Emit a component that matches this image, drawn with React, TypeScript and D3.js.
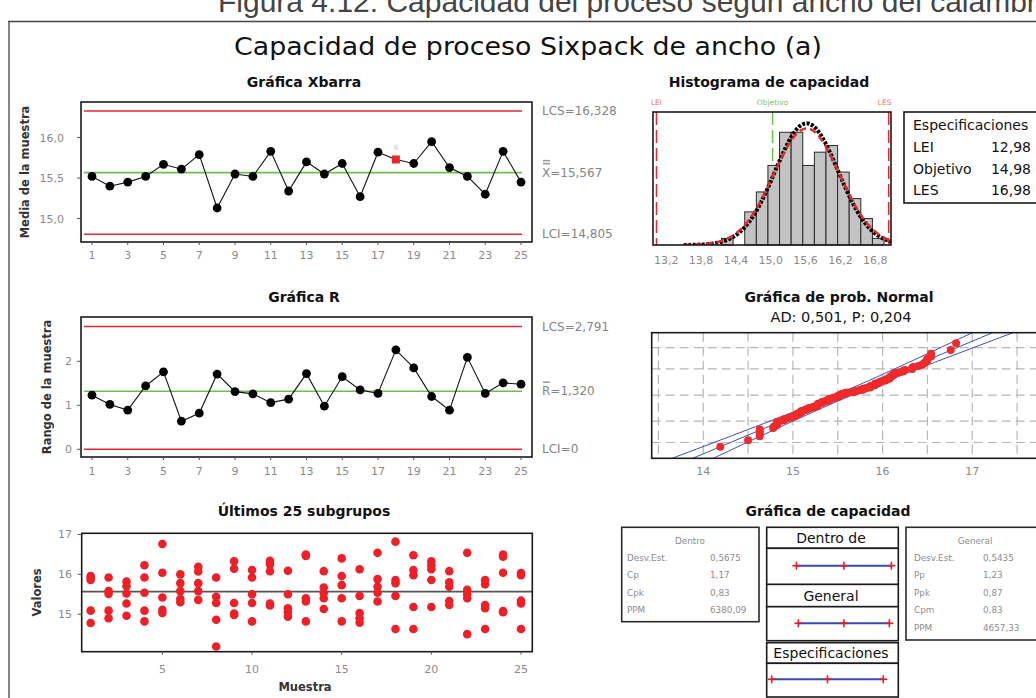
import React from 'react';
import * as d3 from 'd3';

const W = 1036;
const H = 698;
const FONT = "'DejaVu Sans', Verdana, sans-serif";
const TICK_GRAY = '#8a8a8a';
const RED = '#e8262c';
const GREEN = '#6cbf4a';
const BLUE = '#3448c0';

// ---- Subgroup statistics (25 subgroups of 5) ----
const samples = d3.range(1, 26);
const sampleMeans = [
  15.52, 15.40, 15.45, 15.52, 15.67, 15.61, 15.79, 15.13, 15.55, 15.52,
  15.83, 15.34, 15.70, 15.55, 15.68, 15.27, 15.82, 15.73, 15.68, 15.95,
  15.63, 15.52, 15.30, 15.83, 15.45,
];
const sampleRanges = [
  1.23, 1.02, 0.89, 1.44, 1.76, 0.64, 0.82, 1.71, 1.31, 1.26,
  1.06, 1.14, 1.72, 0.98, 1.65, 1.35, 1.27, 2.26, 1.85, 1.20,
  0.89, 2.09, 1.27, 1.51, 1.48,
];
const flaggedMeans = [18];
const oddTicks = d3.range(1, 26, 2);

const xbarUCL = 16.328;
const xbarCL = 15.567;
const xbarLCL = 14.805;
const rUCL = 2.791;
const rCL = 1.32;
const rLCL = 0;

// ---- Individual observations per subgroup ----
const subgroupValues = [
  [15.96, 15.91, 15.86, 15.09, 14.78],
  [15.92, 15.58, 15.51, 15.09, 14.90],
  [15.82, 15.70, 15.52, 15.27, 14.96],
  [16.23, 15.92, 15.54, 15.09, 14.82],
  [16.76, 16.04, 15.42, 15.11, 15.03],
  [16.00, 15.78, 15.58, 15.38, 15.30],
  [16.19, 16.07, 15.78, 15.58, 15.36],
  [15.92, 15.44, 15.28, 14.86, 14.19],
  [16.33, 16.14, 15.28, 15.02, 14.98],
  [16.11, 15.92, 15.50, 15.28, 14.82],
  [16.34, 16.25, 16.08, 15.27, 15.22],
  [16.09, 15.50, 15.15, 15.05, 14.94],
  [16.50, 16.46, 15.40, 15.32, 14.82],
  [16.08, 15.67, 15.53, 15.40, 15.13],
  [16.40, 15.96, 15.73, 15.40, 14.82],
  [16.13, 15.46, 15.03, 14.90, 14.79],
  [16.54, 15.88, 15.69, 15.54, 15.32],
  [16.82, 15.86, 15.78, 15.46, 14.63],
  [16.48, 16.11, 15.98, 15.18, 14.63],
  [16.33, 16.23, 16.13, 15.86, 15.18],
  [16.08, 15.80, 15.69, 15.33, 15.23],
  [16.54, 15.61, 15.50, 15.40, 14.50],
  [15.86, 15.75, 15.23, 15.15, 14.63],
  [16.50, 16.44, 16.04, 15.08, 15.05],
  [16.03, 15.98, 15.34, 15.27, 14.63],
];
const subgroupTicks = [5, 10, 15, 20, 25];
const valueTicks = [15, 16, 17];

// ---- Capability histogram ----
const binWidth = 0.2;
const binStarts = [14.1, 14.3, 14.5, 14.7, 14.9, 15.1, 15.3, 15.5, 15.7, 15.9, 16.1, 16.3, 16.5, 16.7];
const binCounts = [1, 0, 5, 8, 12, 17, 17, 12, 14, 15, 11, 7, 4, 1];
const histTicks = [13.2, 13.8, 14.4, 15.0, 15.6, 16.2, 16.8];

const specLower = 12.98;
const specTarget = 14.98;
const specUpper = 16.98;
const processMean = 15.567;
const sdWithin = 0.5675;
const sdOverall = 0.5435;
const nObs = 125;

const specRows = [
  ['LEI', '12,98'],
  ['Objetivo', '14,98'],
  ['LES', '16,98'],
];
const withinStats = [
  ['Desv.Est.', '0,5675'],
  ['Cp', '1,17'],
  ['Cpk', '0,83'],
  ['PPM', '6380,09'],
];
const overallStats = [
  ['Desv.Est.', '0,5435'],
  ['Pp', '1,23'],
  ['Ppk', '0,87'],
  ['Cpm', '0,83'],
  ['PPM', '4657,33'],
];

// ---- Normal probability plot ----
const probTicks = [14, 15, 16, 17];
const probGridX = d3.range(13.5, 17.51, 0.5);
const probGridPct = [1, 10, 50, 90, 99];

const es = d3.formatLocale({ decimal: ',', thousands: '.', grouping: [3], currency: ['', ' €'] });
const fmt1 = es.format('.1f');
const fmt0 = es.format('d');

// inverse of the standard normal CDF (Acklam's rational approximation)
function normInv(p: number): number {
  const a = [-3.969683028665376e1, 2.209460984245205e2, -2.759285104469687e2, 1.38357751867269e2, -3.066479806614716e1, 2.506628277459239];
  const b = [-5.447609879822406e1, 1.615858368580409e2, -1.556989798598866e2, 6.680131188771972e1, -1.328068155288572e1];
  const c = [-7.784894002430293e-3, -3.223964580411365e-1, -2.400758277161838, -2.549732539343734, 4.374664141464968, 2.938163982698783];
  const d = [7.784695709041462e-3, 3.224671290700398e-1, 2.445134137142996, 3.754408661907416];
  const pl = 0.02425;
  if (p < pl) {
    const q = Math.sqrt(-2 * Math.log(p));
    return (((((c[0] * q + c[1]) * q + c[2]) * q + c[3]) * q + c[4]) * q + c[5]) / ((((d[0] * q + d[1]) * q + d[2]) * q + d[3]) * q + 1);
  }
  if (p <= 1 - pl) {
    const q = p - 0.5;
    const r = q * q;
    return ((((((a[0] * r + a[1]) * r + a[2]) * r + a[3]) * r + a[4]) * r + a[5]) * q) / (((((b[0] * r + b[1]) * r + b[2]) * r + b[3]) * r + b[4]) * r + 1);
  }
  const q = Math.sqrt(-2 * Math.log(1 - p));
  return -(((((c[0] * q + c[1]) * q + c[2]) * q + c[3]) * q + c[4]) * q + c[5]) / ((((d[0] * q + d[1]) * q + d[2]) * q + d[3]) * q + 1);
}

const normPdf = (x: number, m: number, s: number) =>
  Math.exp(-0.5 * ((x - m) / s) ** 2) / (s * Math.sqrt(2 * Math.PI));

// ---- scales ----
const xS = d3.scaleLinear().domain([0.385, 25.615]).range([81, 532]);
const yXbar = d3.scaleLinear().domain([14.71, 16.44]).range([242, 102]);
const yRange = d3.scaleLinear().domain([-0.175, 3.007]).range([457, 317]);
const xSub = d3.scaleLinear().domain([0.5, 25.63]).range([81.7, 532.3]);
const ySub = d3.scaleLinear().domain([14.06, 17.03]).range([651.7, 533.3]);
const xH = d3.scaleLinear().domain([12.92, 17.02]).range([653, 891]);
const yH = d3.scaleLinear().domain([0, 20.06]).range([245, 112]);
const xP = d3.scaleLinear().domain([13.425, 17.8]).range([651.7, 1044]);
const yP = d3.scaleLinear().domain([-3.1, 3.054]).range([458.3, 332.7]);
const xC = d3.scaleLinear().domain([specLower, specUpper]).range([771.7, 883.3]);

const titleStyle = { fontFamily: FONT, fontSize: 14, fontWeight: 700, fill: '#111' } as const;
const tickStyle = { fontFamily: FONT, fontSize: 11, fill: TICK_GRAY } as const;
const axisLabelStyle = { fontFamily: FONT, fontSize: 11.5, fontWeight: 700, fill: '#333' } as const;

type ControlProps = {
  y: d3.ScaleLinear<number, number>;
  values: number[];
  ticks: number[];
  tickFmt: (v: number) => string;
  tickRight: number;
  ucl: number;
  cl: number;
  lcl: number;
  uclText: string;
  clLetter: string;
  clText: string;
  clBars: number;
  lclText: string;
  flagged: number[];
  title: string;
  titleY: number;
  yLabel: string;
  yLabelX: number;
  xLabelY: number;
};

function ControlChart(p: ControlProps) {
  const [bottom, top] = p.y.range();
  const [left, right] = xS.range();
  const line = d3
    .line<number>()
    .x((_, i) => xS(samples[i]))
    .y((v) => p.y(v));
  const midY = (top + bottom) / 2;
  const clY = p.y(p.cl);
  return (
    <g>
      <text x={304} y={p.titleY} textAnchor="middle" style={titleStyle}>
        {p.title}
      </text>
      <text
        transform={`translate(${p.yLabelX},${midY}) rotate(-90)`}
        textAnchor="middle"
        dy="0.35em"
        style={axisLabelStyle}
      >
        {p.yLabel}
      </text>
      {/* control limits */}
      <line x1={xS(1) - 8} x2={xS(25) + 1} y1={p.y(p.ucl)} y2={p.y(p.ucl)} stroke={RED} strokeWidth={1.6} />
      <line x1={xS(1) - 8} x2={xS(25) + 1} y1={p.y(p.lcl)} y2={p.y(p.lcl)} stroke={RED} strokeWidth={1.6} />
      <line x1={xS(1) - 8} x2={xS(25) + 1} y1={clY} y2={clY} stroke={GREEN} strokeWidth={1.6} />
      {/* series */}
      <path d={line(p.values) || ''} fill="none" stroke="#111" strokeWidth={1.1} />
      {p.values.map((v, i) =>
        p.flagged.includes(samples[i]) ? (
          <g key={i}>
            <rect x={xS(samples[i]) - 4} y={p.y(v) - 4} width={8} height={8} fill={RED} />
            <text x={xS(samples[i])} y={p.y(v) - 9} textAnchor="middle" style={{ fontFamily: FONT, fontSize: 7, fill: '#c8c8c8' }}>
              6
            </text>
          </g>
        ) : (
          <circle key={i} cx={xS(samples[i])} cy={p.y(v)} r={4.4} fill="#000" />
        )
      )}
      {/* frame */}
      <rect x={left} y={top} width={right - left} height={bottom - top} fill="none" stroke="#1a1a1a" strokeWidth={1.6} />
      {/* y axis */}
      {p.ticks.map((t) => (
        <g key={t}>
          <line x1={left - 4} x2={left} y1={p.y(t)} y2={p.y(t)} stroke="#555" />
          <text x={p.tickRight} y={p.y(t) + 4} textAnchor="end" style={tickStyle}>
            {p.tickFmt(t)}
          </text>
        </g>
      ))}
      {/* x axis */}
      {oddTicks.map((t) => (
        <g key={t}>
          <line x1={xS(t)} x2={xS(t)} y1={bottom} y2={bottom + 3} stroke="#555" />
          <text x={xS(t)} y={p.xLabelY} textAnchor="middle" style={tickStyle}>
            {t}
          </text>
        </g>
      ))}
      {/* limit labels */}
      <text x={542} y={p.y(p.ucl) + 4} style={{ fontFamily: FONT, fontSize: 12, fill: '#858585' }}>
        {p.uclText}
      </text>
      <text x={542} y={clY + 4} style={{ fontFamily: FONT, fontSize: 12, fill: '#858585' }}>
        {p.clLetter + p.clText}
      </text>
      {d3.range(p.clBars).map((k) => (
        <line key={k} x1={543} x2={550} y1={clY - 9 - k * 3} y2={clY - 9 - k * 3} stroke="#9a9a9a" strokeWidth={1.6} />
      ))}
      <text x={542} y={p.y(p.lcl) + 4} style={{ fontFamily: FONT, fontSize: 12, fill: '#858585' }}>
        {p.lclText}
      </text>
    </g>
  );
}

function SubgroupPlot() {
  const [left, right] = xSub.range();
  const [bottom, top] = ySub.range();
  return (
    <g>
      <text x={304} y={515.5} textAnchor="middle" style={titleStyle}>
        Últimos 25 subgrupos
      </text>
      <text transform={`translate(37,${(top + bottom) / 2}) rotate(-90)`} textAnchor="middle" dy="0.35em" style={axisLabelStyle}>
        Valores
      </text>
      <text x={305} y={691} textAnchor="middle" style={axisLabelStyle}>
        Muestra
      </text>
      <line x1={left} x2={right} y1={ySub(xbarCL)} y2={ySub(xbarCL)} stroke="#555" strokeWidth={1.6} />
      {subgroupValues.map((vals, i) =>
        vals.map((v, j) => <circle key={`${i}-${j}`} cx={xSub(samples[i])} cy={ySub(v)} r={4.3} fill="#ee1f26" />)
      )}
      <rect x={left} y={top} width={right - left} height={bottom - top} fill="none" stroke="#1a1a1a" strokeWidth={1.6} />
      {valueTicks.map((t) => (
        <g key={t}>
          <line x1={left - 4} x2={left} y1={ySub(t)} y2={ySub(t)} stroke="#555" />
          <text x={72} y={ySub(t) + 4} textAnchor="end" style={tickStyle}>
            {fmt0(t)}
          </text>
        </g>
      ))}
      {subgroupTicks.map((t) => (
        <g key={t}>
          <line x1={xSub(t)} x2={xSub(t)} y1={bottom} y2={bottom + 3} stroke="#555" />
          <text x={xSub(t)} y={673} textAnchor="middle" style={tickStyle}>
            {t}
          </text>
        </g>
      ))}
    </g>
  );
}

function CapabilityHistogram() {
  const [left, right] = xH.range();
  const [bottom, top] = yH.range();
  const xs = d3.range(13.45, 17.03, 0.01);
  const curve = (sd: number) =>
    d3
      .line<number>()
      .x((x) => xH(x))
      .y((x) => yH(nObs * binWidth * normPdf(x, processMean, sd)))(xs) || '';
  const specLabel = { fontFamily: FONT, fontSize: 7.5 } as const;
  return (
    <g>
      <defs>
        <clipPath id="hist-clip">
          <rect x={left} y={top} width={right - left} height={bottom - top} />
        </clipPath>
      </defs>
      <text x={769} y={87} textAnchor="middle" style={titleStyle}>
        Histograma de capacidad
      </text>
      <line x1={xH(specTarget)} x2={xH(specTarget)} y1={top} y2={bottom} stroke={GREEN} strokeWidth={1.5} strokeDasharray="13,5" />
      {binStarts.map((b, i) =>
        binCounts[i] > 0 ? (
          <rect
            key={b}
            x={xH(b)}
            y={yH(binCounts[i])}
            width={xH(b + binWidth) - xH(b)}
            height={yH(0) - yH(binCounts[i])}
            fill="#c3c3c3"
            stroke="#2a2a2a"
            strokeWidth={1}
          />
        ) : null
      )}
      <line x1={xH(specLower)} x2={xH(specLower)} y1={top} y2={bottom} stroke={RED} strokeWidth={1.5} strokeDasharray="13,5" />
      <line x1={xH(specUpper)} x2={xH(specUpper)} y1={top} y2={bottom} stroke={RED} strokeWidth={1.5} strokeDasharray="13,5" />
      <g clipPath="url(#hist-clip)">
        <path d={curve(sdOverall)} fill="none" stroke="#000" strokeWidth={4} strokeDasharray="3,1.5" />
        <path d={curve(sdWithin)} fill="none" stroke={RED} strokeWidth={2.4} strokeDasharray="7,4" />
      </g>
      <rect x={left} y={top} width={right - left} height={bottom - top} fill="none" stroke="#1a1a1a" strokeWidth={1.6} />
      <text x={xH(specLower)} y={105} textAnchor="middle" style={{ ...specLabel, fill: '#f07070' }}>
        LEI
      </text>
      <text x={xH(specTarget)} y={105} textAnchor="middle" style={{ ...specLabel, fill: '#78c070' }}>
        Objetivo
      </text>
      <text x={xH(specUpper) - 4} y={105} textAnchor="middle" style={{ ...specLabel, fill: '#f07070' }}>
        LES
      </text>
      {histTicks.map((t) => (
        <text key={t} x={xH(t) - 3} y={264} textAnchor="middle" style={tickStyle}>
          {fmt1(t)}
        </text>
      ))}
      {/* specification legend */}
      <rect x={904} y={112} width={150} height={91} fill="#fff" stroke="#1a1a1a" strokeWidth={1.6} />
      <text x={913} y={130} style={{ fontFamily: FONT, fontSize: 14, fill: '#111' }}>
        Especificaciones
      </text>
      {specRows.map((r, i) => (
        <g key={r[0]}>
          <text x={913} y={152 + i * 21.5} style={{ fontFamily: FONT, fontSize: 14, fill: '#111' }}>
            {r[0]}
          </text>
          <text x={1031} y={152 + i * 21.5} textAnchor="end" style={{ fontFamily: FONT, fontSize: 14, fill: '#111' }}>
            {r[1]}
          </text>
        </g>
      ))}
    </g>
  );
}

function NormalProbPlot() {
  const [left, right] = xP.range();
  const [bottom, top] = yP.range();
  const sorted = subgroupValues.flat().sort((a, b) => a - b);
  const n = sorted.length;
  const pts = sorted.map((v, i) => ({ v, z: normInv((i + 1 - 0.3) / (n + 0.4)) }));
  const zs = d3.range(-3.4, 3.41, 0.05);
  const band = (k: number) =>
    d3
      .line<number>()
      .x((z) => xP(processMean + z * sdOverall + k * 1.96 * sdOverall * Math.sqrt(1 / n + (z * z) / (2 * n))))
      .y((z) => yP(z))(zs) || '';
  return (
    <g>
      <defs>
        <clipPath id="prob-clip">
          <rect x={left} y={top} width={right - left} height={bottom - top} />
        </clipPath>
      </defs>
      <text x={839} y={302} textAnchor="middle" style={titleStyle}>
        Gráfica de prob. Normal
      </text>
      <text x={841} y={322} textAnchor="middle" style={{ fontFamily: FONT, fontSize: 14.5, fill: '#111' }}>
        AD: 0,501, P: 0,204
      </text>
      <g clipPath="url(#prob-clip)">
        {probGridX.map((g) => (
          <line key={g} x1={xP(g)} x2={xP(g)} y1={top} y2={bottom} stroke="#b5b5b5" strokeWidth={1.2} strokeDasharray="9,5" />
        ))}
        {probGridPct.map((pct) => (
          <line key={pct} x1={left} x2={right} y1={yP(normInv(pct / 100))} y2={yP(normInv(pct / 100))} stroke="#b5b5b5" strokeWidth={1.2} strokeDasharray="9,5" />
        ))}
        <path d={band(0)} fill="none" stroke={BLUE} strokeWidth={1} />
        <path d={band(-1)} fill="none" stroke={BLUE} strokeWidth={1} />
        <path d={band(1)} fill="none" stroke={BLUE} strokeWidth={1} />
        {pts.map((p, i) => (
          <circle key={i} cx={xP(p.v)} cy={yP(p.z)} r={4} fill="#ee2a2a" />
        ))}
      </g>
      <rect x={left} y={top} width={right - left} height={bottom - top} fill="none" stroke="#1a1a1a" strokeWidth={1.6} />
      {probTicks.map((t) => (
        <text key={t} x={xP(t)} y={475} textAnchor="middle" style={tickStyle}>
          {t}
        </text>
      ))}
    </g>
  );
}

function Plus({ x, y }: { x: number; y: number }) {
  return (
    <g stroke="#f01818" strokeWidth={1.6}>
      <line x1={x - 4} x2={x + 4} y1={y} y2={y} />
      <line x1={x} x2={x} y1={y - 4} y2={y + 4} />
    </g>
  );
}

function CapabilityPlot() {
  const small = { fontFamily: FONT, fontSize: 8.8, fill: '#8c8c8c' } as const;
  const big = { fontFamily: FONT, fontSize: 14, fill: '#111' } as const;
  const intervals = [
    [processMean - 3 * sdWithin, processMean, processMean + 3 * sdWithin],
    [processMean - 3 * sdOverall, processMean, processMean + 3 * sdOverall],
    [specLower, specTarget, specUpper],
  ];
  const bx0 = 766.7;
  const bx1 = 898.3;
  const headers = [
    { label: 'Dentro de', y0: 527.3, y1: 548.3 },
    { label: 'General', y0: 584.3, y1: 606.7 },
    { label: 'Especificaciones', y0: 642.7, y1: 663.3 },
  ];
  const bodies = [
    { y0: 548.3, y1: 584.3, ly: 565.7 },
    { y0: 606.7, y1: 640.7, ly: 623.3 },
    { y0: 663.3, y1: 697, ly: 679.3 },
  ];
  return (
    <g>
      <text x={828} y={515.5} textAnchor="middle" style={titleStyle}>
        Gráfica de capacidad
      </text>
      {/* within statistics */}
      <rect x={621.7} y={527.3} width={137.3} height={94.4} fill="#fff" stroke="#2a2a2a" strokeWidth={1.6} />
      <text x={690} y={543.5} textAnchor="middle" style={small}>
        Dentro
      </text>
      {withinStats.map((r, i) => (
        <g key={r[0]}>
          <text x={627} y={561 + i * 17.4} style={small}>
            {r[0]}
          </text>
          <text x={710} y={561 + i * 17.4} style={small}>
            {r[1]}
          </text>
        </g>
      ))}
      {/* overall statistics */}
      <rect x={906} y={527.3} width={150} height={112.7} fill="#fff" stroke="#2a2a2a" strokeWidth={1.6} />
      <text x={975} y={543.5} textAnchor="middle" style={small}>
        General
      </text>
      {overallStats.map((r, i) => (
        <g key={r[0]}>
          <text x={914} y={561 + i * 17.4} style={small}>
            {r[0]}
          </text>
          <text x={983} y={561 + i * 17.4} style={small}>
            {r[1]}
          </text>
        </g>
      ))}
      {/* interval boxes */}
      {headers.map((h) => (
        <g key={h.label}>
          <rect x={bx0} y={h.y0} width={bx1 - bx0} height={h.y1 - h.y0} fill="#fff" stroke="#1a1a1a" strokeWidth={1.6} />
          <text x={831} y={(h.y0 + h.y1) / 2 + 5} textAnchor="middle" style={big}>
            {h.label}
          </text>
        </g>
      ))}
      {bodies.map((b, i) => (
        <g key={i}>
          <rect x={bx0} y={b.y0} width={bx1 - bx0} height={b.y1 - b.y0} fill="#fff" stroke="#1a1a1a" strokeWidth={1.6} />
          <line x1={xC(intervals[i][0])} x2={xC(intervals[i][2])} y1={b.ly} y2={b.ly} stroke={BLUE} strokeWidth={2} />
          {intervals[i].map((v, k) => (
            <Plus key={k} x={xC(v)} y={b.ly} />
          ))}
        </g>
      ))}
    </g>
  );
}

export default function App() {
  return (
    <svg width={W} height={H} style={{ position: 'absolute', left: 0, top: 0, background: '#fff' }}>
      <rect x={0} y={0} width={W} height={H} fill="#fff" />
      <text x={218} y={12} style={{ fontFamily: "'Liberation Sans', Arial, sans-serif", fontSize: 30, fill: '#444' }}>
        Figura 4.12: Capacidad del proceso según ancho del calambre
      </text>
      <line x1={8} x2={W} y1={21.5} y2={21.5} stroke="#444" strokeWidth={1.3} />
      <line x1={9} x2={9} y1={21.5} y2={H} stroke="#444" strokeWidth={1.3} />
      <text x={528} y={55} textAnchor="middle" textLength={588} lengthAdjust="spacingAndGlyphs" style={{ fontFamily: FONT, fontSize: 25, fill: '#111' }}>
        Capacidad de proceso Sixpack de ancho (a)
      </text>

      <ControlChart
        y={yXbar}
        values={sampleMeans}
        ticks={[15, 15.5, 16]}
        tickFmt={fmt1}
        tickRight={64}
        ucl={xbarUCL}
        cl={xbarCL}
        lcl={xbarLCL}
        uclText={`LCS=${es.format('.3f')(xbarUCL)}`}
        clLetter="X"
        clText={`=${es.format('.3f')(xbarCL)}`}
        clBars={2}
        lclText={`LCI=${es.format('.3f')(xbarLCL)}`}
        flagged={flaggedMeans}
        title="Gráfica Xbarra"
        titleY={86.5}
        yLabel="Media de la muestra"
        yLabelX={25}
        xLabelY={259}
      />
      <ControlChart
        y={yRange}
        values={sampleRanges}
        ticks={[0, 1, 2]}
        tickFmt={fmt0}
        tickRight={72}
        ucl={rUCL}
        cl={rCL}
        lcl={rLCL}
        uclText={`LCS=${es.format('.3f')(rUCL)}`}
        clLetter="R"
        clText={`=${es.format('.3f')(rCL)}`}
        clBars={1}
        lclText={`LCI=${fmt0(rLCL)}`}
        flagged={[]}
        title="Gráfica R"
        titleY={301.5}
        yLabel="Rango de la muestra"
        yLabelX={47}
        xLabelY={475}
      />
      <SubgroupPlot />
      <CapabilityHistogram />
      <NormalProbPlot />
      <CapabilityPlot />
    </svg>
  );
}
